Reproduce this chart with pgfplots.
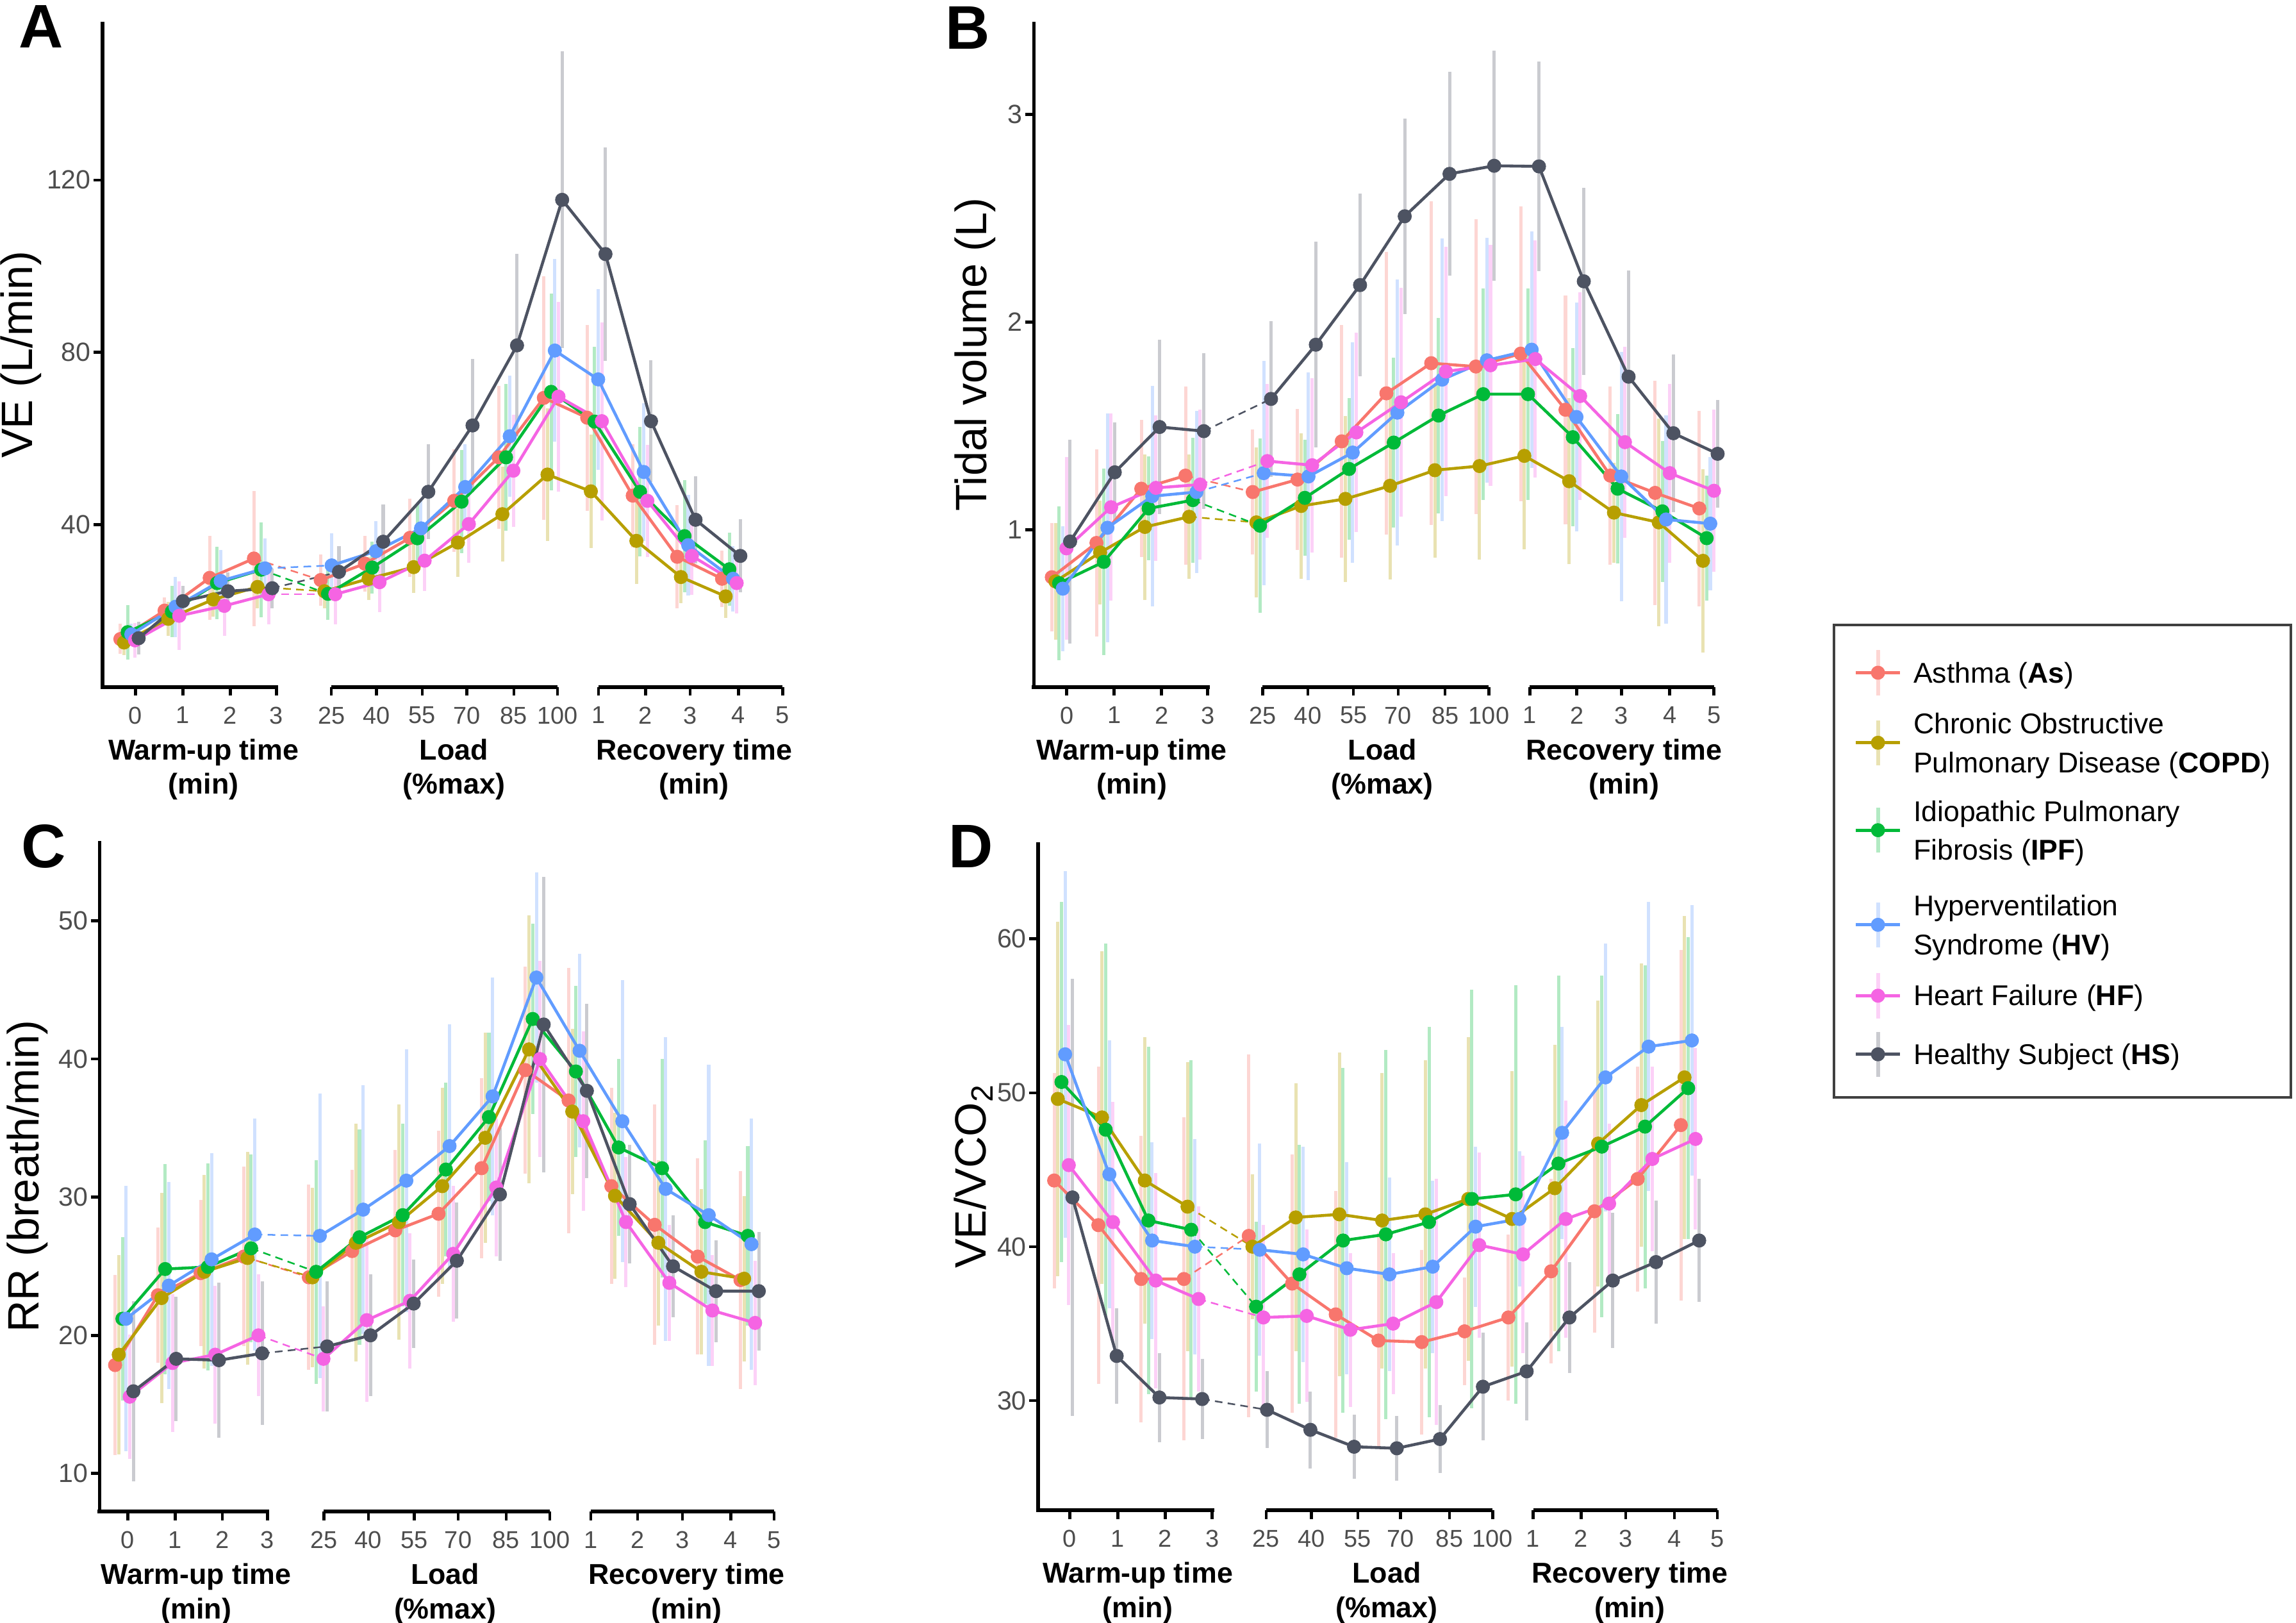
\documentclass[border=0pt]{standalone}
\usepackage{fontspec}
\setmainfont{Liberation Sans}
\usepackage{pgfplots}
\usepackage{pgfplotstable}
\pgfplotsset{compat=1.18}

\definecolor{cAs}{HTML}{F8766D}
\definecolor{cCOPD}{HTML}{B79F00}
\definecolor{cIPF}{HTML}{00BA38}
\definecolor{cHV}{HTML}{619CFF}
\definecolor{cHF}{HTML}{F564E3}
\definecolor{cHS}{HTML}{4D5362}
\definecolor{tickgray}{HTML}{4D4D4D}

\pgfplotstableread{
x As Ase COPD COPDe IPF IPFe HV HVe HF HFe HS HSe
24.7 13.4 3.5 12.6 3 15.0 6.3 14.5 2.5 13.1 4 13.6 3.8
54.9 20.0 3 18.1 4 19.8 6 20.9 7 18.8 8 22.2 3.6
85.7 27.6 9.8 22.6 4 26.4 8.4 26.9 7.2 21.1 7 24.5 4.3
115.9 32.1 15.7 25.5 5 29.5 11 29.8 7 23.8 7 25.2 4.6
161.5 27.1 6 24.5 4 23.9 6 30.5 7.4 23.8 7 29.0 6
191.7 30.9 6.5 27.4 5 30.0 6 33.8 7 26.6 7 36.0 8.6
222.5 36.9 9.1 30.1 6 36.8 8 39.1 6.4 31.6 7 47.6 11
252.7 45.5 11.9 35.8 8 45.3 12 48.7 10 40.1 9 63.0 15.5
283.1 55.6 16.6 42.4 11 55.6 17 60.5 14 52.5 13 81.6 21.2
313.9 69.4 28.3 51.6 15.4 70.8 22.9 80.4 21.2 69.7 22 115.4 34.5
343.5 64.8 21.6 47.7 13.2 63.9 17.3 73.7 21 64.0 23 102.8 24.8
374.6 46.7 12 36.2 10 47.6 15 52.2 16 45.5 13 64.0 14.2
405.0 32.5 12 27.8 6 37.3 13 35.2 11.7 32.7 9 41.1 10.1
435.6 27.4 6.5 23.3 5 29.6 8.5 27.4 7.6 26.4 7 32.7 8.5
}\tabA

\pgfplotstableread{
x As Ase COPD COPDe IPF IPFe HV HVe HF HFe HS HSe
24.8 0.772 0.26 0.752 0.28 0.743 0.37 0.717 0.3 0.911 0.44 0.944 0.49
55.3 0.937 0.45 0.891 0.25 0.846 0.45 1.01 0.55 1.109 0.45 1.277 0.24
85.9 1.198 0.33 1.014 0.35 1.103 0.25 1.162 0.53 1.202 0.35 1.495 0.42
116.1 1.261 0.43 1.063 0.3 1.143 0.3 1.182 0.39 1.218 0.36 1.475 0.374
162 1.182 0.30 1.036 0.36 1.02 0.42 1.273 0.54 1.331 0.37 1.63 0.374
192.6 1.242 0.34 1.115 0.35 1.154 0.28 1.257 0.5 1.311 0.42 1.891 0.495
222.8 1.426 0.56 1.149 0.4 1.293 0.34 1.372 0.53 1.469 0.48 2.178 0.44
253.3 1.657 0.68 1.212 0.45 1.42 0.41 1.564 0.64 1.614 0.55 2.509 0.47
283.9 1.802 0.78 1.287 0.42 1.55 0.47 1.723 0.68 1.762 0.6 2.713 0.49
314.4 1.786 0.71 1.307 0.45 1.653 0.51 1.816 0.59 1.792 0.58 2.752 0.554
345 1.848 0.71 1.356 0.45 1.653 0.51 1.867 0.57 1.822 0.57 2.749 0.505
375.6 1.578 0.55 1.234 0.4 1.446 0.43 1.543 0.55 1.644 0.5 2.196 0.45
406.2 1.261 0.43 1.083 0.24 1.198 0.36 1.257 0.6 1.422 0.46 1.737 0.51
436.8 1.178 0.54 1.036 0.5 1.089 0.34 1.05 0.5 1.273 0.43 1.465 0.38
467 1.103 0.47 0.851 0.44 0.96 0.3 1.03 0.32 1.188 0.39 1.366 0.26
}\tabB

\pgfplotstableread{
x As Ase COPD COPDe IPF IPFe HV HVe HF HFe HS HSe
23.1 17.85 6.5 18.6 7.2 21.2 5.9 21.2 9.6 15.56 4.5 15.95 6.5
52.3 22.9 4.9 22.7 7.6 24.8 7.6 23.6 7.5 18.0 5 18.3 4.5
81.5 24.5 5.3 24.6 7 24.95 7.5 25.5 7.7 18.6 5 18.2 5.6
111 25.7 6.5 25.6 7.7 26.3 6.8 27.3 8.4 20.0 4.4 18.7 5.2
155.4 24.2 6.7 24.2 6.5 24.6 8.1 27.2 10.3 18.3 3.8 19.2 4.7
185 26.1 5.9 26.7 8.6 27.1 7.8 29.1 9 21.1 5.9 20.0 4.4
214.5 27.6 5.8 28.2 8.5 28.7 6.6 31.2 9.5 22.5 4.9 22.3 3.2
244 28.8 6 30.8 7.1 32.0 6.3 33.7 8.8 25.9 4.9 25.4 4.2
273.4 32.1 6.5 34.3 7.6 35.8 6.1 37.3 8.6 30.7 5 30.2 4.8
303.3 39.2 7.5 40.7 9.7 42.9 6.9 45.9 7.6 40.0 7.1 42.5 10.7
332.8 37.0 9.6 36.2 6 39.1 6.2 40.6 7.0 35.5 6.5 37.7 6.3
362 30.8 7.1 30.1 6 33.6 6.4 35.5 10.2 28.2 4.7 29.5 4.3
391.6 28.0 8.7 26.7 6 32.1 7.9 30.6 11 23.8 4.2 25.0 3.7
421 25.7 7.1 24.6 6 28.2 5.9 28.7 10.9 21.8 4 23.2 3.7
450.2 24.0 7.9 24.1 6 27.2 6.5 26.6 9.1 20.9 4.5 23.2 4.3
}\tabC

\pgfplotstableread{
x As Ase COPD COPDe IPF IPFe HV HVe HF HFe HS HSe
23.4 44.3 7 49.6 11.5 50.7 11.7 52.5 11.9 45.3 9.1 43.2 14.2
53.6 41.4 10.3 48.4 10.8 47.6 12.1 44.7 8.7 41.6 7.8 32.9 3.1
82.8 37.9 9.3 44.3 9.3 41.7 11.3 40.4 6.4 37.8 7 30.2 2.9
112 37.9 10.5 42.6 9.4 41.1 11 40.0 7 36.6 6 30.1 2.6
156.3 40.7 11.8 40.0 4.7 36.1 5.5 39.8 6.9 35.4 6 29.4 2.5
185.9 37.6 8.4 41.9 8.7 38.2 8.4 39.5 7 35.5 5.6 28.1 2.5
215.7 35.6 8 42.1 10.5 40.4 11.2 38.6 6.9 34.6 5 27.0 2.1
244.9 33.9 7 41.7 9.6 40.8 12 38.2 6.3 35.0 4.6 26.9 2.1
274.4 33.8 6 42.1 10 41.6 12.7 38.7 5.6 36.4 8 27.5 2.2
303.7 34.5 3.5 43.1 10.5 43.1 13.6 41.3 5.2 40.1 6 30.9 3.5
333.6 35.4 5.4 41.8 9.6 43.4 13.6 41.8 4.4 39.5 6.4 31.9 3.2
362.8 38.4 6 43.8 9.3 45.4 12.2 47.4 6.9 41.8 7.7 35.4 3.6
392.4 42.3 7.9 46.7 9.3 46.5 11.1 51.0 8.7 42.8 5.2 37.8 4.4
421.9 44.4 7.3 49.2 9.2 47.8 10.5 53.0 9.4 45.7 6 39.0 4
451.4 47.9 11.4 51.0 10.5 50.3 9.8 53.4 8.8 47.0 5.9 40.4 4.0
}\tabD

% error bar layer: #1 table, #2 column, #3 colour, #4 dodge offset
\newcommand{\ebar}[4]{%
  \addplot[draw=none, mark=none, forget plot,
    error bars/.cd, y dir=both, y explicit, error mark=none,
    error bar style={draw=#3!30, line width=1.1pt, solid}]
    table[x expr=\thisrow{x}+#4, y=#2, y error=#2e] {#1};
}
% lines and points: dashed link warm-up -> load, solid elsewhere
\newcommand{\sline}[4]{%
  \addplot[color=#3, line width=0.55pt, dash pattern=on 2.6pt off 1.8pt, mark=none, forget plot,
    skip coords between index={0}{3}, skip coords between index={5}{20}]
    table[x expr=\thisrow{x}+#4, y=#2] {#1};
  \addplot[color=#3, line width=1.0pt, mark=*, mark size=2.3pt,
    mark options={solid, fill=#3, draw=#3, line width=0.2pt}, forget plot,
    skip coords between index={4}{20}]
    table[x expr=\thisrow{x}+#4, y=#2] {#1};
  \addplot[color=#3, line width=1.0pt, mark=*, mark size=2.3pt,
    mark options={solid, fill=#3, draw=#3, line width=0.2pt}, forget plot,
    skip coords between index={0}{4}]
    table[x expr=\thisrow{x}+#4, y=#2] {#1};
}
\newcommand{\allseries}[1]{%
  \ebar{#1}{As}{cAs}{-12.5}\ebar{#1}{COPD}{cCOPD}{-10}\ebar{#1}{IPF}{cIPF}{-7.5}%
  \ebar{#1}{HV}{cHV}{-5}\ebar{#1}{HF}{cHF}{-2.5}\ebar{#1}{HS}{cHS}{0}%
  \sline{#1}{As}{cAs}{-12.5}\sline{#1}{COPD}{cCOPD}{-10}\sline{#1}{IPF}{cIPF}{-7.5}%
  \sline{#1}{HV}{cHV}{-5}\sline{#1}{HF}{cHF}{-2.5}\sline{#1}{HS}{cHS}{0}%
}
% bottom bracket segments: #1 ymin, #2 tick 3, #3 tick 25, #4 tick 100, #5 tick r1, #6 tick r5
\newcommand{\segs}[6]{%
  \draw[line width=1.3pt, line cap=rect] (axis cs:0,#1) -- (axis cs:#2,#1);
  \draw[line width=1.3pt] (axis cs:#3,#1) -- (axis cs:#4,#1);
  \draw[line width=1.3pt] (axis cs:#5,#1) -- (axis cs:#6,#1);
}
% group labels: #1 ymin, #2 x warm, #3 x load, #4 x recovery
\newcommand{\glabels}[4]{%
  \node[glab, yshift=-24.8pt] at (axis cs:#2,#1) {Warm-up time};
  \node[glab, yshift=-36.6pt] at (axis cs:#2,#1) {(min)};
  \node[glab, yshift=-24.8pt] at (axis cs:#3,#1) {Load};
  \node[glab, yshift=-36.6pt] at (axis cs:#3,#1) {(\%max)};
  \node[glab, yshift=-24.8pt] at (axis cs:#4,#1) {Recovery time};
  \node[glab, yshift=-36.6pt] at (axis cs:#4,#1) {(min)};
}
% legend key: light vertical bar, line, dot; centred 3.4pt above the text baseline
\newcommand{\legimg}[1]{\addlegendimage{legend image code/.code={%
  \path[draw=none, fill=none] (0pt,2pt) rectangle (20.15pt,4pt);
  \draw[#1!30, line width=1.3pt] (10pt,-4.3pt) -- (10pt,11.1pt);
  \draw[#1, line width=1.1pt] (2.5pt,3.4pt) -- (17.5pt,3.4pt);
  \fill[#1, draw=none] (10pt,3.4pt) circle (2.4pt);}}}
% legend texts with struts: #1 raise, #2 height, #3 text
\newcommand{\one}[3]{\rule[#1]{0pt}{#2}#3}
\newcommand{\two}[4]{\rule[#1]{0pt}{#2}\begin{tabular}{@{}l@{}}#3\\#4\end{tabular}}

\tikzset{glab/.style={font=\bfseries\fontsize{9.8}{12}\selectfont, anchor=base, inner sep=0pt}}

\pgfplotsset{
  panel/.style={
    scale only axis, width=235pt, clip=false,
    xmin=0, xmax=470,
    axis lines=left,
    axis line style={-, line width=1.2pt, black},
    x axis line style={draw=none},
    tick align=outside, major tick length=3pt,
    every tick/.style={black, line width=1pt},
    /pgf/number format/assume math mode=true,
    xticklabels={0,1,2,3,25,40,55,70,85,100,1,2,3,4,5},
    xticklabel style={font=\fontsize{8.3}{10}\selectfont, text=tickgray, inner sep=3.6pt},
    yticklabel style={font=\fontsize{9}{10}\selectfont, text=tickgray, inner sep=0.8pt},
    ylabel style={font=\fontsize{15}{18}\selectfont, anchor=center},
  },
}

\begin{document}
\begin{tikzpicture}
\useasboundingbox (0pt,0pt) rectangle (784pt,-554pt);

% ---------------- A ----------------
\begin{axis}[panel, at={(35pt,-7.5pt)}, anchor=north west, height=227pt,
  ymin=2.27, ymax=156.7, ytick={40,80,120},
  xtick={22.5,54.9,87.3,118.8,156.3,187.2,218.3,248.8,280.9,310.8,338.7,370.8,401.3,434.3,464.5},
  ylabel={VE (L/min)}, ylabel style={at={(axis description cs:-0.118,0.5)}}]
\allseries{\tabA}
\segs{2.27}{118.8}{156.3}{310.8}{338.7}{464.5}
\glabels{2.27}{69}{240}{404}
\end{axis}

% ---------------- B ----------------
\begin{axis}[panel, at={(353pt,-7.5pt)}, anchor=north west, height=227pt,
  ymin=0.244, ymax=3.444, ytick={1,2,3},
  xtick={22.5,54.9,87.3,118.8,156.3,187.2,218.3,248.8,280.9,310.8,338.7,370.8,401.3,434.3,464.5},
  ylabel={Tidal volume (L)}, ylabel style={at={(axis description cs:-0.085,0.5)}}]
\allseries{\tabB}
\segs{0.244}{118.8}{156.3}{310.8}{338.7}{464.5}
\glabels{0.244}{67}{238}{403}
\end{axis}

% ---------------- C ----------------
\begin{axis}[panel, at={(34pt,-287pt)}, anchor=north west, height=229pt,
  ymin=7.24, ymax=55.8, ytick={10,20,30,40,50},
  xtick={19.3,51.7,83.8,114.6,153.1,183.6,215,244.9,277.7,307.5,335.4,367.5,398,431,460.6},
  ylabel={RR (breath/min)}, ylabel style={at={(axis description cs:-0.105,0.5)}}]
\allseries{\tabC}
\segs{7.24}{114.6}{153.1}{307.5}{335.4}{460.6}
\glabels{7.24}{66}{236}{401}
\end{axis}

% ---------------- D ----------------
\begin{axis}[panel, at={(354.5pt,-287.5pt)}, anchor=north west, height=228pt,
  ymin=22.88, ymax=66.28, ytick={30,40,50,60},
  xtick={21.5,54.3,86.7,118.8,155.7,186.5,218.3,247.5,280.9,310.4,338,370.8,401.3,434.4,463.9},
  ylabel={VE/VCO\textsubscript{2}}, ylabel style={at={(axis description cs:-0.094,0.5)}},
  legend style={at={(axis description cs:1.1547,1.3268)}, anchor=north west,
    draw=black!75, line width=0.8pt, fill=white,
    font=\fontsize{9.75}{13.3}\selectfont,
    inner xsep=5pt, inner ysep=5pt, row sep=0pt,
    nodes={anchor=base west, inner xsep=2pt, inner ysep=0pt, text depth=, text height=}}]
\allseries{\tabD}
\segs{22.88}{118.8}{155.7}{310.4}{338}{463.9}
\glabels{22.88}{68}{238}{404}
\legimg{cAs}\addlegendentry{\one{-6.6pt}{21.25pt}{Asthma (\textbf{As})}}
\legimg{cCOPD}\addlegendentry{\two{-11.6pt}{28.9pt}{Chronic Obstructive}{Pulmonary Disease (\textbf{COPD})}}
\legimg{cIPF}\addlegendentry{\two{-11.6pt}{29.85pt}{Idiopathic Pulmonary}{Fibrosis (\textbf{IPF})}}
\legimg{cHV}\addlegendentry{\two{-10.5pt}{31.2pt}{Hyperventilation}{Syndrome (\textbf{HV})}}
\legimg{cHF}\addlegendentry{\one{-6.6pt}{20pt}{Heart Failure (\textbf{HF})}}
\legimg{cHS}\addlegendentry{\one{-6.3pt}{19.7pt}{Healthy Subject (\textbf{HS})}}
\end{axis}

\node[font=\bfseries\fontsize{21}{24}\selectfont] at (14pt,-9pt) {A};
\node[font=\bfseries\fontsize{21}{24}\selectfont] at (330.5pt,-9.5pt) {B};
\node[font=\bfseries\fontsize{21}{24}\selectfont] at (15pt,-289pt) {C};
\node[font=\bfseries\fontsize{21}{24}\selectfont] at (331.5pt,-289pt) {D};
\end{tikzpicture}
\end{document}
